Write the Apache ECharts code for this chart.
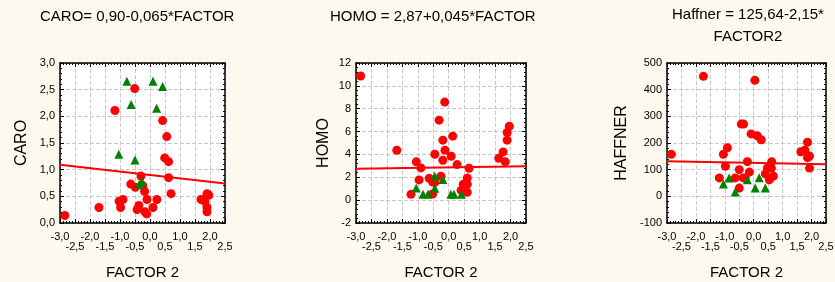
<!DOCTYPE html>
<html>
<head>
<meta charset="utf-8">
<script src="https://cdn.jsdelivr.net/npm/echarts@6/dist/echarts.min.js"></script>
<style>
  html, body { margin: 0; padding: 0; background: #fdf9ee; }
  #main { width: 835px; height: 282px; }
</style>
</head>
<body>
<div id="main"></div>
<script>
// values
var caroRed = [[-2.84,0.14],[-1.70,0.29],[-1.17,2.11],[-0.51,2.52],[0.42,1.92],[0.56,1.62],[0.49,1.22],[0.62,1.15],
    [0.62,0.85],[-0.30,0.88],[-0.64,0.73],[-0.49,0.67],[-0.24,0.70],[-0.18,0.59],[0.70,0.55],[-1.03,0.41],
    [-0.90,0.44],[-0.98,0.29],[-0.37,0.33],[-0.43,0.25],[-0.10,0.44],[0.23,0.44],[0.10,0.29],[-0.17,0.21],
    [-0.11,0.17],[1.70,0.44],[1.83,0.40],[1.90,0.55],[1.96,0.52],[1.90,0.29],[1.90,0.21]];
var caroGreen = [[-0.77,2.66],[0.10,2.66],[0.42,2.56],[-0.63,2.22],[0.22,2.15],[-1.04,1.29],[-0.50,1.18],
    [-0.27,0.78],[-0.36,0.72]];
var caroFit = [[-3.0,1.09],[2.5,0.74]];

var homoRed = [[-2.85,10.86],[-1.68,4.37],[-1.05,3.35],[-0.90,2.82],[-0.96,1.77],[-1.22,0.51],[-0.63,1.91],
    [-0.52,1.59],[-0.45,1.56],[-0.52,0.54],[-0.25,2.09],[-0.45,4.02],[-0.31,7.0],[-0.13,8.58],[-0.19,5.25],
    [0.13,5.60],[-0.12,4.37],[-0.19,3.49],[0.08,3.84],[0.27,3.11],[0.66,2.79],[0.60,1.94],[0.60,1.39],
    [0.47,1.39],[0.40,0.86],[0.60,0.68],[1.62,3.67],[1.76,4.22],[1.83,3.35],[1.89,5.25],[1.89,5.92],[1.96,6.47]];
var homoGreen = [[-1.05,1.06],[-0.83,0.51],[-0.67,0.51],[-0.45,2.12],[-0.45,1.04],[-0.19,1.80],[0.07,0.51],
    [0.17,0.51],[0.41,0.51]];
var homoFit = [[-3.0,2.75],[2.5,2.97]];

var haffRed = [[-2.85,158],[-1.74,450],[0.04,435],[-0.43,271],[-0.35,271],[-0.09,234],[0.12,227],[0.26,212],
    [-0.91,182],[-1.05,158],[-0.98,113],[-1.19,69],[-0.64,69],[-0.50,100],[-0.36,69],[-0.29,69],[-0.50,31],
    [-0.22,130],[-0.15,91],[0.40,84],[0.54,62],[0.62,130],[0.61,106],[0.47,106],[0.68,76],[1.63,167],
    [1.77,173],[1.86,203],[1.86,145],[1.93,151],[1.93,106]];
var haffGreen = [[-1.05,46],[-0.85,69],[-0.64,16],[-0.22,62],[0.05,31],[0.19,70],[0.40,31]];
var haffFit = [[-3.0,132],[2.5,120]];

var titles = ['CARO= 0,90-0,065*FACTOR2', 'HOMO = 2,87+0,045*FACTOR2', 'Haffner = 125,64-2,15*\nFACTOR2'];
var yNames = ['CARO', 'HOMO', 'HAFFNER'];
var xName = 'FACTOR 2';

var FONT = '"Liberation Sans", Arial, sans-serif';
var grids = [
    {left: 60, top: 63, width: 165, height: 160},
    {left: 356, top: 63, width: 170, height: 160},
    {left: 667, top: 63, width: 159, height: 160}
];
var yRanges = [[0, 3, 0.5, 30], [-2, 12, 2, 24], [-100, 500, 100, 37]];

function comma(v, dec) {
    return v.toFixed(dec).replace('.', ',');
}
function isHalf(v) {
    return Math.round((v + 3) * 2) % 2 === 1;
}

var xAxes = [], yAxes = [], series = [];
grids.forEach(function (g, i) {
    g.backgroundColor = '#fff';
    g.show = true;
    g.borderWidth = 0;
    g.containLabel = false;
    g.outerBoundsMode = 'none';
    var frameLine = {show: true, onZero: false, lineStyle: {color: '#000', width: 1.5}};
    var tick = {show: true, inside: true, length: 4, lineStyle: {color: '#000'}};
    var minor = {show: true, splitNumber: 5, length: 2, lineStyle: {color: '#000'}};
    var labelBase = {fontFamily: FONT, fontSize: 11, color: '#000',
        showMinLabel: true, showMaxLabel: true, hideOverlap: false};
    // bottom axis: whole-number labels, first row
    xAxes.push({
        gridIndex: i, type: 'value', min: -3, max: 2.5, interval: 0.5, position: 'bottom',
        name: xName, nameLocation: 'middle', nameGap: 42,
        nameTextStyle: {fontFamily: FONT, fontSize: 15, color: '#000'},
        axisLine: frameLine, axisTick: tick, minorTick: minor,
        splitLine: {show: true, lineStyle: {color: '#c8c8c8', type: 'dashed'}},
        axisLabel: Object.assign({margin: 8, formatter: function (v) {
            return isHalf(v) ? '' : comma(v, 1);
        }}, labelBase)
    });
    // top frame
    xAxes.push({
        gridIndex: i, type: 'value', min: -3, max: 2.5, interval: 0.5, position: 'top',
        axisLine: frameLine, axisTick: tick, minorTick: minor,
        axisLabel: {show: false}, splitLine: {show: false}
    });
    // second label row: halves
    xAxes.push({
        gridIndex: i, type: 'value', min: -3, max: 2.5, interval: 0.5, position: 'bottom',
        axisLine: {show: false}, axisTick: {show: false}, splitLine: {show: false},
        axisLabel: Object.assign({margin: 18, formatter: function (v) {
            return isHalf(v) ? comma(v, 1) : '';
        }}, labelBase)
    });
    var r = yRanges[i];
    yAxes.push({
        gridIndex: i, type: 'value', min: r[0], max: r[1], interval: r[2], position: 'left',
        name: yNames[i], nameLocation: 'middle', nameGap: r[3],
        nameTextStyle: {fontFamily: FONT, fontSize: 16, color: '#000'},
        axisLine: frameLine, axisTick: tick, minorTick: minor,
        splitLine: {show: true, lineStyle: {color: '#c8c8c8', type: 'dashed'}},
        axisLabel: {
            fontFamily: FONT, fontSize: 11, color: '#000', margin: 5,
            showMinLabel: true, showMaxLabel: true,
            formatter: function (v) { return i === 0 ? comma(v, 1) : String(v); }
        }
    });
    yAxes.push({
        gridIndex: i, type: 'value', min: r[0], max: r[1], interval: r[2], position: 'right',
        axisLine: frameLine, axisTick: tick, minorTick: minor,
        axisLabel: {show: false}, splitLine: {show: false}
    });
});

var sets = [[caroRed, caroGreen, caroFit], [homoRed, homoGreen, homoFit], [haffRed, haffGreen, haffFit]];
sets.forEach(function (s, i) {
    series.push({
        type: 'line', xAxisIndex: i * 3, yAxisIndex: i * 2, data: s[2],
        symbol: 'none', lineStyle: {color: '#ff0000', width: 2}, z: 3
    });
    series.push({
        type: 'scatter', xAxisIndex: i * 3, yAxisIndex: i * 2, data: s[0],
        symbol: 'circle', symbolSize: 9, itemStyle: {color: '#ff0000', opacity: 1}, z: 4
    });
    series.push({
        type: 'scatter', xAxisIndex: i * 3, yAxisIndex: i * 2, data: s[1],
        symbol: 'triangle', symbolSize: 9, itemStyle: {color: '#008000', opacity: 1}, z: 5
    });
});

var titleStyle = {fontFamily: FONT, fontSize: 15, fontWeight: 'normal', color: '#000'};
var myChart = echarts.init(document.getElementById('main'));
myChart.setOption({
    backgroundColor: '#fdf9ee',
    animation: false,
    title: [
        {text: titles[0], left: 40, top: 9, padding: 0,
            textStyle: Object.assign({width: 203, overflow: 'truncate', ellipsis: ''}, titleStyle)},
        {text: titles[1], left: 330, top: 9, padding: 0,
            textStyle: Object.assign({width: 213, overflow: 'truncate', ellipsis: ''}, titleStyle)},
        {text: titles[2], left: 748, top: 4, padding: 0, textAlign: 'center',
            textStyle: Object.assign({lineHeight: 22}, titleStyle)}
    ],
    grid: grids,
    xAxis: xAxes,
    yAxis: yAxes,
    series: series
});
</script>
</body>
</html>
